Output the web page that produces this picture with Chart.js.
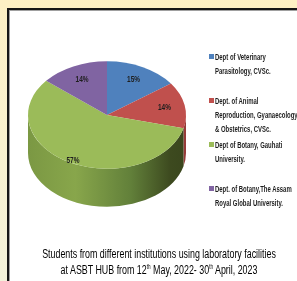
<!DOCTYPE html>
<html>
<head>
<meta charset="utf-8">
<script src="https://cdn.jsdelivr.net/npm/chart.js@4.4.0/dist/chart.umd.min.js"></script>
<style>
  html, body { margin: 0; padding: 0; }
  body {
    width: 297px; height: 281px; overflow: hidden; position: relative;
    background: linear-gradient(#fdf0c4, #f3f2da);
  }
  #frame {
    position: absolute; left: 7px; top: 8px; width: 300px; height: 290px;
    background: #fff; border: 2px solid #161616;
    box-shadow: inset 1px 1px 0 #a0a0a0;
  }
  #chartBox { position: absolute; left: 0; top: 0; width: 297px; height: 281px; }
  #legend { position: absolute; left: 209px; top: 0; width: 120px; }
  .item { position: absolute; left: 0; width: 120px; }
  .item i { position: absolute; left: 0; top: 4px; width: 5px; height: 5px; }
  .item span {
    position: absolute; left: 6px; top: 0; white-space: nowrap;
    font: bold 8.5px "Liberation Sans", Arial, sans-serif;
    line-height: 14px; color: #1e1e1e;
    transform: scaleX(0.7); transform-origin: 0 0;
  }
  #title {
    position: absolute; left: -100px; width: 518px; top: 246px;
    font: 12.5px "Liberation Sans", Arial, sans-serif;
    line-height: 16px; color: #000;
  }
  #title div { white-space: nowrap; text-align: center; }
  #title sup { font-size: 6.5px; vertical-align: 5px; line-height: 0; }
</style>
</head>
<body>
<div id="frame"></div>
<div id="chartBox"><canvas id="pie"></canvas></div>
<div id="legend"></div>
<div id="title">
  <div>Students from different institutions using laboratory facilities</div>
  <div>at ASBT HUB from 12<sup>th</sup> May, 2022- 30<sup>th</sup> April, 2023</div>
</div>
<script>
const categories = [
  ['Dept of Veterinary', 'Parasitology, CVSc.'],
  ['Dept. of Animal', 'Reproduction, Gyanaecology', '& Obstetrics, CVSc.'],
  ['Dept of Botany, Gauhati', 'University.'],
  ['Dept. of Botany,The Assam', 'Royal Global University.']
];
const shares = [15, 14, 57, 14];
const topColors = ['#4f81bd', '#c0504d', '#9bbb59', '#8064a2'];
const sideColors = ['#3a6394', '#963b39', '#6e8a3c', '#5f4a7a'];

const squash = 0.68;   // vertical flattening of the pie
const depth = 38;      // thickness of the pie, px
const narrow = 0.71;   // horizontal squeeze of the condensed fonts

// side wall + flattening of the top face
const pie3d = {
  id: 'pie3d',
  beforeDatasetsDraw(chart) {
    const ctx = chart.ctx;
    const arcs = chart.getDatasetMeta(0).data;
    const cx = arcs[0].x, cy = arcs[0].y, r = arcs[0].outerRadius;
    ctx.save();
    arcs.forEach((arc, i) => {
      const a0 = Math.max(arc.startAngle, 0);
      const a1 = Math.min(arc.endAngle, Math.PI);
      if (a1 <= a0) return;
      let fill = sideColors[i];
      if (i === 2) {
        const g = ctx.createLinearGradient(cx - r, 0, cx + r, 0);
        g.addColorStop(0, '#7b9843');
        g.addColorStop(0.3, '#88a64b');
        g.addColorStop(0.65, '#62803a');
        g.addColorStop(0.9, '#3d4a1f');
        g.addColorStop(1, '#3a461d');
        fill = g;
      }
      ctx.beginPath();
      ctx.ellipse(cx, cy, r, r * squash, 0, a0, a1);
      ctx.ellipse(cx, cy + depth, r, r * squash, 0, a1, a0, true);
      ctx.closePath();
      ctx.fillStyle = fill;
      ctx.fill();
    });
    ctx.restore();
    ctx.save();
    ctx.translate(cx, cy);
    ctx.scale(1, squash);
    ctx.translate(-cx, -cy);
  },
  afterDatasetsDraw(chart) {
    const ctx = chart.ctx;
    ctx.restore();
    const arcs = chart.getDatasetMeta(0).data;
    const total = shares.reduce((a, b) => a + b, 0);
    ctx.save();
    ctx.font = 'bold 9px "Liberation Sans", Arial, sans-serif';
    ctx.fillStyle = '#1e1e1e';
    ctx.textAlign = 'center';
    ctx.textBaseline = 'middle';
    arcs.forEach((arc, i) => {
      const mid = (arc.startAngle + arc.endAngle) / 2;
      const f = shares[i] / total > 0.5 ? 0.95 : 0.74;
      const x = arc.x + Math.cos(mid) * arc.outerRadius * f;
      const y = arc.y + Math.sin(mid) * arc.outerRadius * f * squash;
      ctx.save();
      ctx.translate(x, y);
      ctx.scale(0.72, 1);
      ctx.fillText(Math.round(shares[i] / total * 100) + '%', 0, 0);
      ctx.restore();
    });
    ctx.restore();
  }
};

new Chart(document.getElementById('pie'), {
  type: 'pie',
  data: {
    labels: categories.map(c => c.join(' ')),
    datasets: [{ data: shares, backgroundColor: topColors, borderWidth: 0, hoverOffset: 0 }]
  },
  options: {
    responsive: true, maintainAspectRatio: false, animation: false,
    layout: { padding: { left: 28, right: 111, top: 36, bottom: 87 } },
    plugins: { legend: { display: false }, tooltip: { enabled: false } },
    events: []
  },
  plugins: [pie3d]
});

// legend
const legend = document.getElementById('legend');
categories.forEach((lines, i) => {
  const item = document.createElement('div');
  item.className = 'item';
  item.style.top = (50 + i * 44) + 'px';
  item.innerHTML = `<i style="background:${topColors[i]}"></i><span>${lines.join('<br>')}</span>`;
  legend.appendChild(item);
});

// title in a condensed face: squeeze each line around the frame centre
document.querySelectorAll('#title div').forEach(line => {
  line.style.transform = 'scaleX(' + narrow + ')';
  line.style.transformOrigin = '259px 0';
});
</script>
</body>
</html>
